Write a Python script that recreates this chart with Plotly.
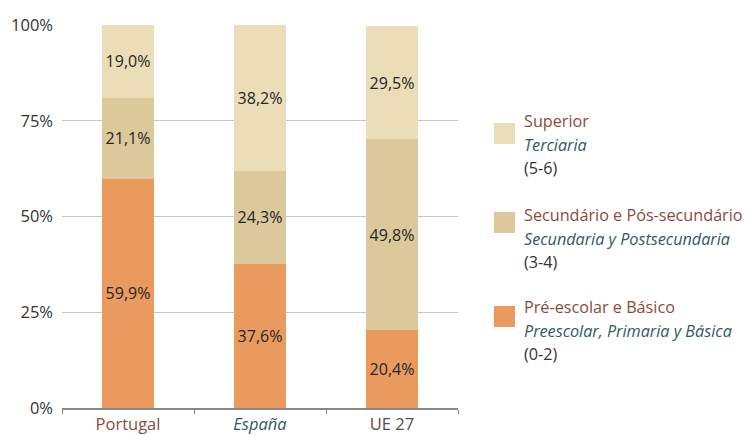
import plotly.graph_objects as go

categories = ["Portugal", "España", "UE 27"]
basico = [59.9, 37.6, 20.4]
secundario = [21.1, 24.3, 49.8]
superior = [19.0, 38.2, 29.5]
y_ticks = [0, 25, 50, 75, 100]
y_ticklabels = ["0%", "25%", "50%", "75%", "100%"]

C_BAS = "#EA9A5F"
C_SEC = "#DBC89B"
C_SUP = "#EBDDB7"
PT = "#8A4B3C"
ES = "#2F5B5E"
FONT = "Open Sans"

def lbl(v):
    return [f"{x:.1f}".replace(".", ",") + "%" for x in v]

fig = go.Figure()
for name, vals, col in [("Básico", basico, C_BAS), ("Secundário", secundario, C_SEC), ("Superior", superior, C_SUP)]:
    fig.add_trace(go.Bar(
        x=categories, y=vals, name=name, marker=dict(color=col, line=dict(width=0)),
        text=lbl(vals), textposition="inside", insidetextanchor="middle",
        textfont=dict(family=FONT, size=16, color="#262626"), textangle=0,
        constraintext="none", showlegend=False, hoverinfo="skip",
    ))

tick_text = [
    f"<span style='color:{PT}'>Portugal</span>",
    f"<i><span style='color:{ES}'>España</span></i>",
    "<span style='color:#5a4a45'>UE 27</span>",
]

fig.update_layout(
    width=750, height=435, barmode="stack", bargap=0.6,
    margin=dict(l=62, r=292, t=25, b=27, autoexpand=False),
    paper_bgcolor="white", plot_bgcolor="white",
    font=dict(family=FONT, size=15, color="#333"),
    uniformtext=dict(mode=False),
    xaxis=dict(tickvals=categories, ticktext=tick_text, tickson="boundaries",
               ticks="outside", ticklen=4, tickcolor="#888", showline=True,
               linecolor="#888", linewidth=1.5, tickfont=dict(size=16.5), showgrid=False,
               automargin=False),
    yaxis=dict(range=[0, 100], tickvals=y_ticks, ticktext=y_ticklabels, showgrid=True,
               gridcolor="#C6C6C6", gridwidth=1, zeroline=False, showline=False,
               ticks="", ticklabelstandoff=8, tickfont=dict(size=16.5, color="#333"),
               automargin=False),
)

# manual legend (coordinates in window pixels)
def py2paper(py):
    return (408 - py) / 383

def px2paper(px):
    return (px - 62) / 396

entries = [
    (C_SUP, 123, ["Superior", "Terciaria", "(5-6)"], 121),
    (C_SEC, 212, ["Secundário e Pós-secundário", "Secundaria y Postsecundaria", "(3-4)"], 215),
    (C_BAS, 306, ["Pré-escolar e Básico", "Preescolar, Primaria y Básica", "(0-2)"], 307),
]
for col, sq_top, lines, ty in entries:
    fig.add_shape(type="rect", xref="paper", yref="paper",
                  x0=px2paper(494), x1=px2paper(515), y0=py2paper(sq_top + 21), y1=py2paper(sq_top),
                  fillcolor=col, line=dict(width=0))
    styles = [(lines[0], PT, False), (lines[1], ES, True), (lines[2], "#333", False)]
    for i, (t, c, it) in enumerate(styles):
        txt = f"<i>{t}</i>" if it else t
        fig.add_annotation(xref="paper", yref="paper", x=px2paper(522), y=py2paper(ty + i * 23.5),
                           text=txt, showarrow=False, xanchor="left", yanchor="middle",
                           font=dict(family=FONT, size=16.2, color=c))

fig.write_html(
    "out.html",
    config={"displayModeBar": False},
    post_script="document.body.style.margin='0';document.body.style.overflow='hidden';",
)
